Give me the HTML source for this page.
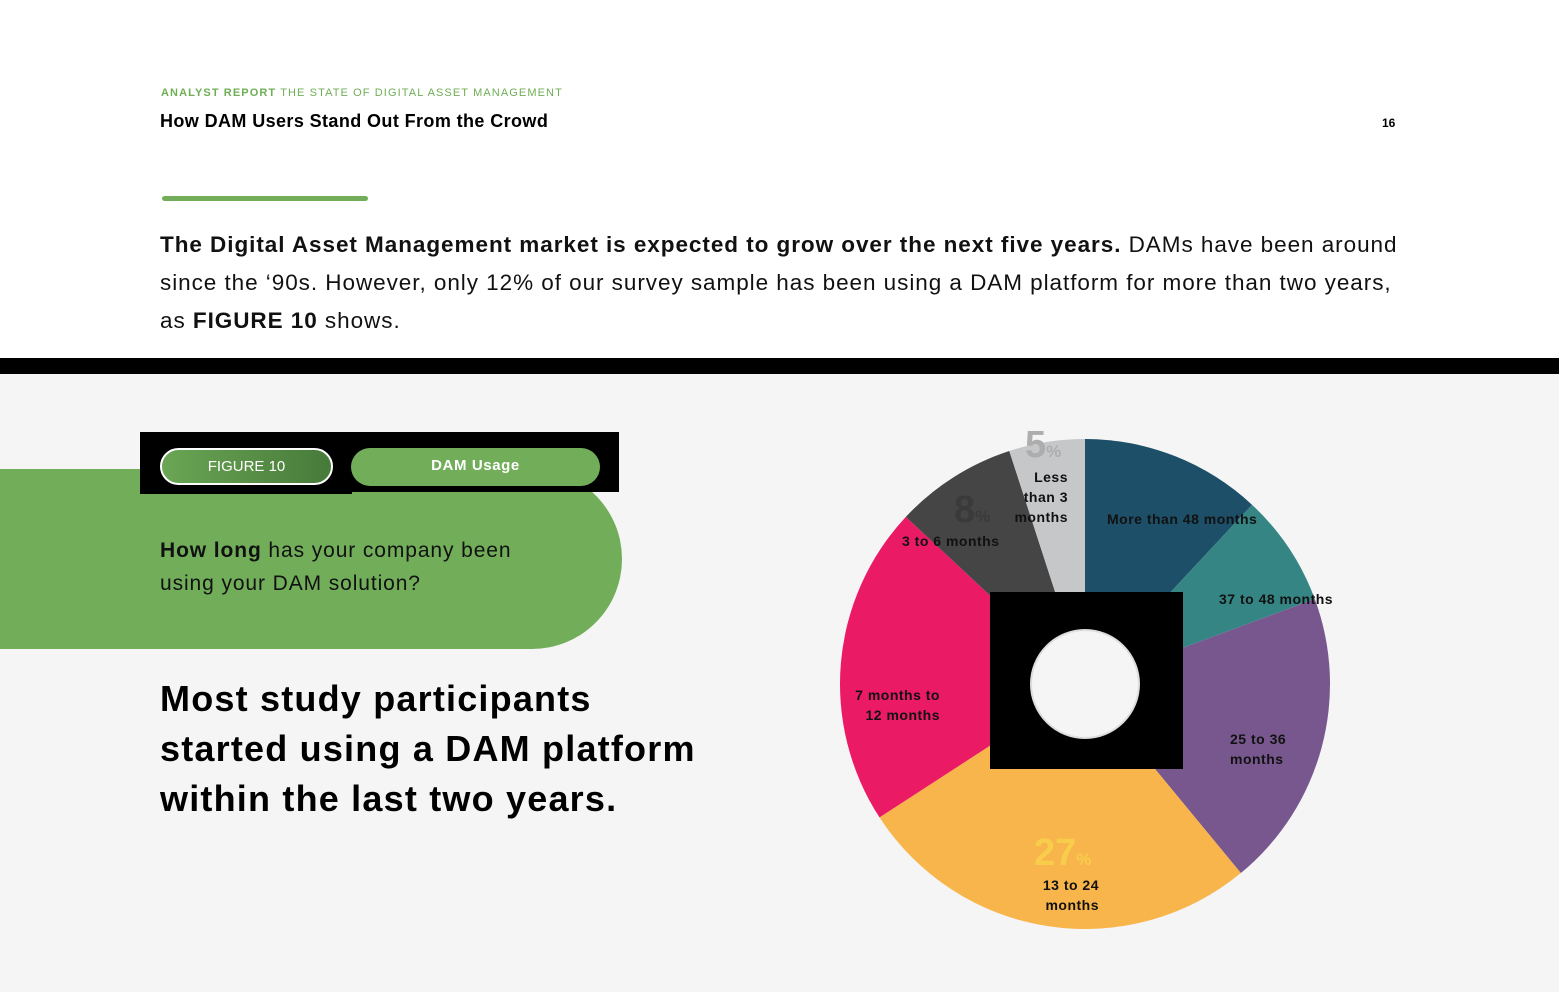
<!DOCTYPE html>
<html><head><meta charset="utf-8"><style>
*{margin:0;padding:0;box-sizing:border-box}
body{width:1559px;height:992px;position:relative;background:#f5f5f5;font-family:"Liberation Sans",sans-serif;overflow:hidden}
.top{position:absolute;left:0;top:0;width:1559px;height:358px;background:#fff}
.band{position:absolute;left:0;top:358px;width:1559px;height:16px;background:#000}
.abs{position:absolute;white-space:nowrap}
</style></head><body>
<div class="top"></div>
<div class="abs" style="left:161px;top:87px;font-size:11px;letter-spacing:1.1px;color:#6fae55"><b>ANALYST REPORT</b> THE STATE OF DIGITAL ASSET MANAGEMENT</div>
<div class="abs" style="left:160px;top:111px;font-size:18px;font-weight:bold;letter-spacing:0.4px;color:#000">How DAM Users Stand Out From the Crowd</div>
<div class="abs" style="left:1382px;top:116px;font-size:12px;font-weight:bold">16</div>
<div class="abs" style="left:162px;top:196px;width:206px;height:5px;border-radius:3px;background:#72ae5a"></div>
<div class="abs" style="left:160px;top:226px;font-size:22.5px;line-height:38px;color:#111;letter-spacing:0.95px">
<b>The Digital Asset Management market is expected to grow over the next five years.</b> DAMs have been around<br>since the ‘90s. However, only 12% of our survey sample has been using a DAM platform for more than two years,<br>as <b>FIGURE 10</b> shows.</div>
<div class="band"></div>

<div class="abs" style="left:0;top:469px;width:622px;height:180px;background:#72ae5a;border-radius:0 90px 90px 0"></div>
<div class="abs" style="left:140px;top:432px;width:479px;height:60px;background:#000"></div>
<div class="abs" style="left:140px;top:480px;width:212px;height:14px;background:#000"></div>
<div class="abs" style="left:160px;top:448px;width:173px;height:37px;border:2px solid #fff;border-radius:19px;background:linear-gradient(90deg,#6aa654,#477a3a);color:#fff;font-size:15px;text-align:center;line-height:33px">FIGURE 10</div>
<div class="abs" style="left:351px;top:448px;width:249px;height:38px;border-radius:19px;background:#72ae5a;color:#fff;font-size:15px;font-weight:bold;text-align:center;line-height:36px;letter-spacing:0.6px">DAM Usage</div>
<div class="abs" style="left:160px;top:534px;font-size:21px;line-height:33px;color:#111;letter-spacing:0.9px"><b>How long</b> has your company been<br>using your DAM solution?</div>
<div class="abs" style="left:160px;top:674px;font-size:36px;line-height:50px;font-weight:900;color:#000;letter-spacing:1.2px">Most study participants<br>started using a DAM platform<br>within the last two years.</div>

<svg class="abs" style="left:0;top:0" width="1559" height="992" id="pie"></svg>
<script>
var cx=1085,cy=684,r=245;
var s=[[0,43,"#1d5068"],[43,69.7,"#368585"],[69.7,140.5,"#77578d"],[140.5,237,"#f8b54b"],[237,313,"#ea1a65"],[313,342,"#454545"],[342,360,"#c6c7c9"]];
function pt(a,rr){a=a*Math.PI/180;return [cx+rr*Math.sin(a),cy-rr*Math.cos(a)];}
var h="";
s.forEach(function(v){var p1=pt(v[0],r),p2=pt(v[1],r),l=(v[1]-v[0])>180?1:0;
h+='<path d="M'+cx+' '+cy+'L'+p1[0]+' '+p1[1]+'A'+r+' '+r+' 0 '+l+' 1 '+p2[0]+' '+p2[1]+'Z" fill="'+v[2]+'"/>';});
h+='<rect x="990" y="592" width="193" height="177" fill="#000"/><circle cx="1085" cy="684" r="54" fill="#f5f5f5" stroke="#ddd" stroke-width="2"/>';
var t=[["More than 48 months",1107,524,"start"],["37 to 48 months",1219,604,"start"],["25 to 36",1230,744,"start"],["months",1230,764,"start"],["13 to 24",1099,890,"end"],["months",1099,910,"end"],["7 months to",940,700,"end"],["12 months",940,720,"end"],["3 to 6 months",902,546,"start"],["Less",1068,482,"end"],["than 3",1068,502,"end"],["months",1068,522,"end"]];
t.forEach(function(v){h+='<text x="'+v[1]+'" y="'+v[2]+'" text-anchor="'+v[3]+'" font-family="Liberation Sans,sans-serif" font-weight="bold" font-size="14" letter-spacing="0.5" fill="#111">'+v[0]+'</text>';});
h+='<text x="1025" y="457" font-family="Liberation Sans,sans-serif" font-weight="900" font-size="38" fill="#adadad">5<tspan font-size="17">%</tspan></text>';
h+='<text x="954" y="522" font-family="Liberation Sans,sans-serif" font-weight="900" font-size="38" fill="#3a3a3a">8<tspan font-size="17">%</tspan></text>';
h+='<text x="1034" y="865" font-family="Liberation Sans,sans-serif" font-weight="900" font-size="38" fill="#f9cd4c">27<tspan font-size="17">%</tspan></text>';
document.getElementById("pie").innerHTML=h;
</script>
</body></html>
